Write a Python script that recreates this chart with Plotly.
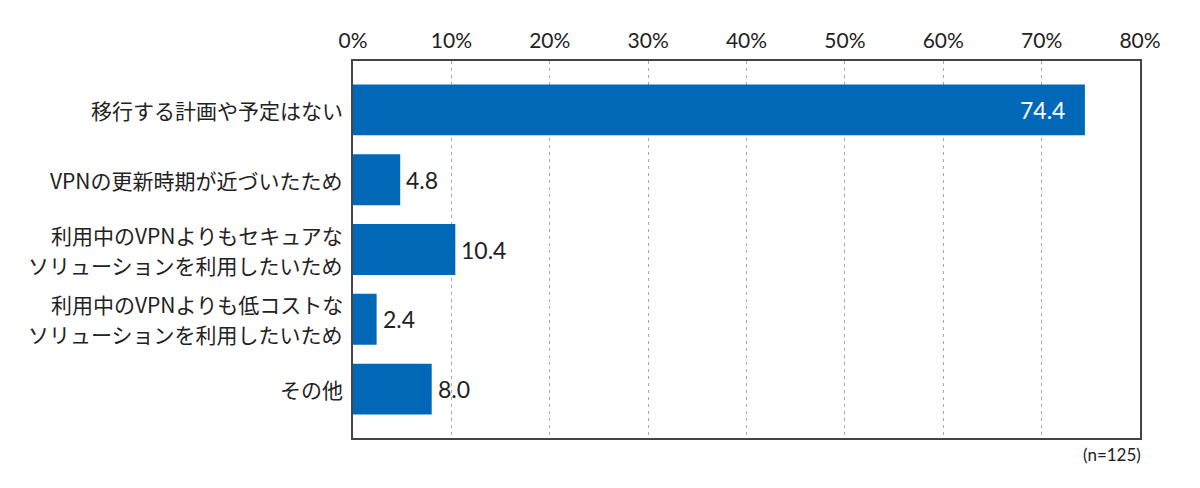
import plotly.graph_objects as go

categories = [
    "移行する計画や予定はない",
    "VPNの更新時期が近づいたため",
    "利用中のVPNよりもセキュアな<br>ソリューションを利用したいため",
    "利用中のVPNよりも低コストな<br>ソリューションを利用したいため",
    "その他",
]
values = [74.4, 4.8, 10.4, 2.4, 8.0]
tick_vals = [0, 10, 20, 30, 40, 50, 60, 70, 80]
tick_text = ["0%", "10%", "20%", "30%", "40%", "50%", "60%", "70%", "80%"]
note = "(n=125)"

FONT = "Noto Sans CJK JP, Noto Sans, sans-serif"
NUMFONT = "Lato, Noto Sans, sans-serif"
BAR = "#0068b7"
TXT = "#222222"

fig = go.Figure()
fig.add_trace(go.Bar(
    y=categories, x=values, orientation="h",
    marker=dict(color=BAR, line=dict(width=0)),
    width=0.73,
    hoverinfo="x+y",
))

annotations = []
# category labels (one annotation per line for reference-like line spacing)
LINE = 30
for c in categories:
    lines = c.split("<br>")
    n = len(lines)
    for j, ln in enumerate(lines):
        annotations.append(dict(
            x=0, y=c, xref="paper", yref="y", text=ln, showarrow=False,
            xanchor="right", yanchor="middle", xshift=-8,
            yshift=((n - 1) / 2 - j) * LINE,
            font=dict(family=FONT, size=21, color=TXT),
        ))
# value labels
for i, (c, v) in enumerate(zip(categories, values)):
    inside = i == 0
    annotations.append(dict(
        x=v, y=c, xref="x", yref="y", text=f"{v:.1f}", showarrow=False,
        xanchor="right" if inside else "left",
        xshift=-18 if inside else 4,
        yanchor="middle",
        font=dict(family=NUMFONT, size=23, color="white" if inside else TXT),
    ))
annotations.append(dict(
    text=note, xref="paper", yref="paper", x=1, y=0, yshift=-4, xshift=3,
    xanchor="right", yanchor="top", showarrow=False,
    font=dict(family=NUMFONT, size=17, color=TXT),
))

fig.update_layout(
    width=1200, height=488,
    margin=dict(l=345, r=68, t=53, b=58),
    paper_bgcolor="white", plot_bgcolor="white",
    showlegend=False,
    xaxis=dict(
        range=[0, 80], side="top", tickvals=tick_vals, ticktext=tick_text,
        tickfont=dict(family=NUMFONT, size=21, color=TXT),
        showgrid=True, gridcolor="#a8a8a8", griddash="3px,4px", gridwidth=1,
        showline=True, linecolor="#444444", linewidth=1.5, mirror=True,
        zeroline=False, ticks="", ticklabelstandoff=3, automargin=False,
    ),
    yaxis=dict(
        autorange=False, range=[4.7, -0.7],
        categoryorder="array", categoryarray=categories,
        showticklabels=False,
        showline=True, linecolor="#444444", linewidth=1.5, mirror=True,
        showgrid=False, ticks="", automargin=False,
    ),
    annotations=annotations,
)

fig.write_html("out.html")
